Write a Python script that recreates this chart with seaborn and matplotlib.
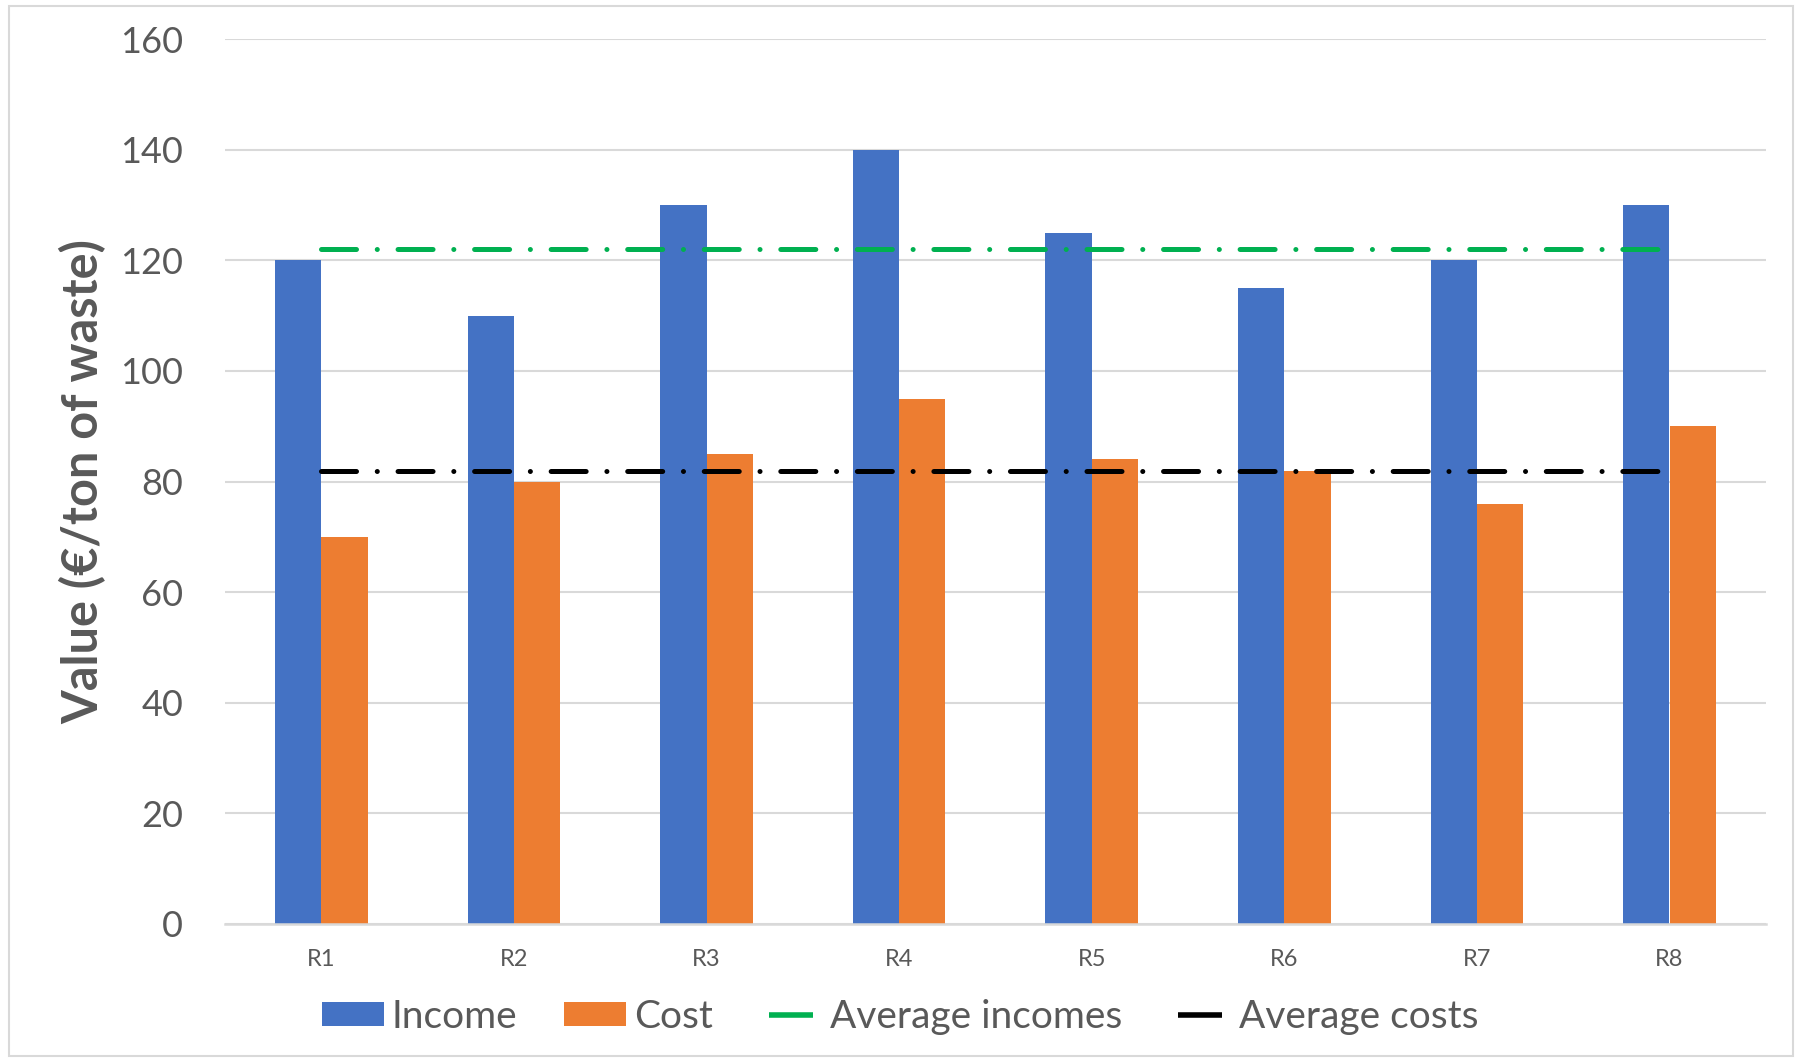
import numpy as np
import pandas as pd
import matplotlib
matplotlib.use("Agg")
import matplotlib.pyplot as plt
from matplotlib.patches import Patch, Rectangle
from matplotlib.lines import Line2D
import seaborn as sns

categories = ["R1", "R2", "R3", "R4", "R5", "R6", "R7", "R8"]
income = [120, 110, 130, 140, 125, 115, 120, 130]
cost = [70, 80, 85, 95, 84, 82, 76, 90]
avg_income = 122
avg_cost = 82
y_ticks = [0, 20, 40, 60, 80, 100, 120, 140, 160]

sns.set_theme(style="white")
plt.rcParams['font.family'] = ['Lato', 'DejaVu Sans']

df = pd.DataFrame({
    "Region": categories * 2,
    "Value": income + cost,
    "Series": ["Income"] * len(categories) + ["Cost"] * len(categories),
})

fig = plt.figure(figsize=(18, 10.59), dpi=100)
ax = fig.add_axes([0.125, 0.1275, 0.856, 0.8355])

c_inc = "#4472C4"
c_cost = "#ED7D31"
c_green = "#00B050"
txt = "#595959"
grid = "#D9D9D9"

sns.barplot(data=df, x="Region", y="Value", hue="Series",
            palette={"Income": c_inc, "Cost": c_cost}, width=0.48,
            saturation=1, ax=ax, legend=False, edgecolor="none")

xs = np.arange(len(categories))
ls_dd = (0, (7, 4.15, 0.01, 4.15))
ax.plot(xs[[0, -1]], [avg_income] * 2, color=c_green, lw=3.6, ls=ls_dd,
        dash_capstyle="round", zorder=5)
ax.plot(xs[[0, -1]], [avg_cost] * 2, color="black", lw=3.6, ls=ls_dd,
        dash_capstyle="round", zorder=5)

ax.set_xlim(-0.5, len(categories) - 0.5)
ax.set_ylim(0, 160)
ax.set_yticks(y_ticks)
ax.yaxis.grid(True, color=grid, lw=1.5)
ax.set_axisbelow(True)
for s in ["top", "right", "left"]:
    ax.spines[s].set_visible(False)
ax.spines["bottom"].set_color(grid)
ax.spines["bottom"].set_linewidth(1.8)

ax.tick_params(axis="y", length=0, pad=30, labelsize=26, labelcolor=txt)
ax.tick_params(axis="x", length=0, pad=18, labelsize=17, labelcolor=txt)
ax.set_xlabel("")
ax.set_ylabel("Value (€/ton of waste)", fontsize=35, fontweight="bold", color=txt)
ax.yaxis.set_label_coords(-0.077, 0.5)

handles = [
    Patch(facecolor=c_inc, edgecolor="none", label="Income"),
    Patch(facecolor=c_cost, edgecolor="none", label="Cost"),
    Line2D([0], [0], color=c_green, ls="none", marker="_", markersize=32,
           markeredgewidth=4, label="Average incomes"),
    Line2D([0], [0], color="black", ls="none", marker="_", markersize=32,
           markeredgewidth=4, label="Average costs"),
]
leg = fig.legend(handles=handles, loc="center", bbox_to_anchor=(0.5, 0.04),
                 ncol=4, frameon=False, fontsize=28, handlelength=1.6,
                 handleheight=0.55, columnspacing=1.2, handletextpad=0.2,
                 numpoints=1)
for t in leg.get_texts():
    t.set_color(txt)

fig.patches.append(Rectangle((0.005, 0.003), 0.991, 0.991, transform=fig.transFigure,
                             fill=False, edgecolor=grid, lw=1.5, zorder=0))

fig.savefig("out.png", dpi=100)
